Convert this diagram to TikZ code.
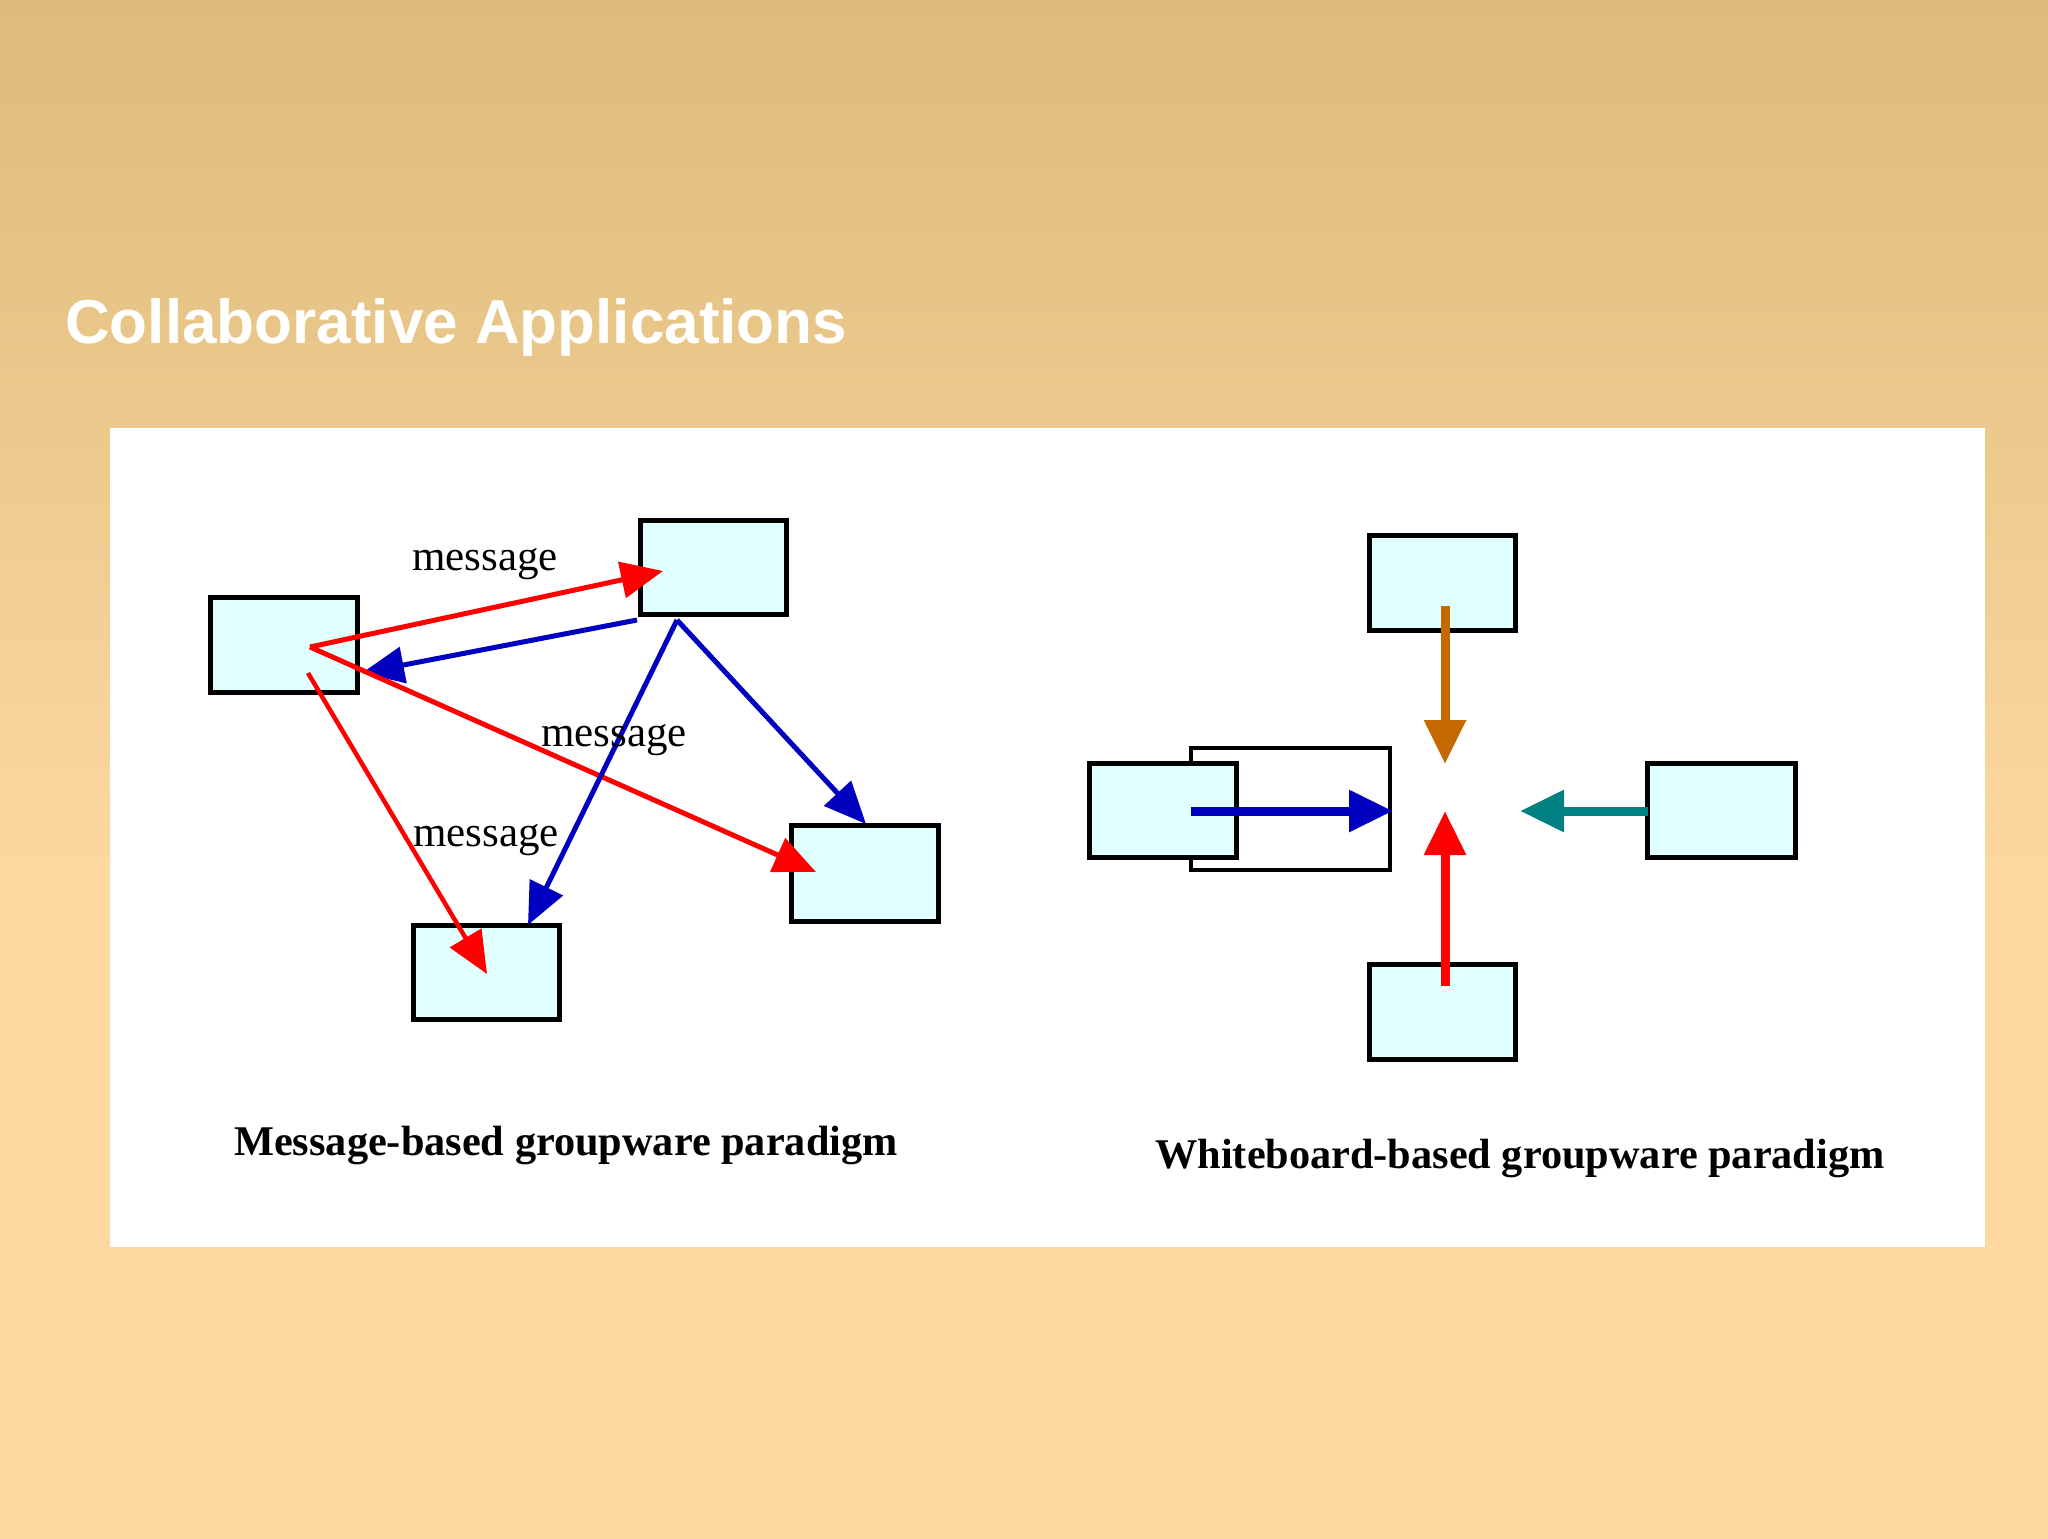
\documentclass[tikz,border=0pt]{standalone}
\usepackage{fontspec}
\setmainfont{Liberation Serif}
\newfontfamily\titlefont{Liberation Sans}
\usetikzlibrary{arrows.meta}
\definecolor{bgtop}{RGB}{220,187,123}
\definecolor{bgbot}{RGB}{253,217,160}
\definecolor{boxfill}{RGB}{224,255,255}
\definecolor{myred}{RGB}{255,0,0}
\definecolor{myblue}{RGB}{0,0,192}
\definecolor{myorange}{RGB}{196,104,0}
\definecolor{myteal}{RGB}{0,128,128}
\tikzset{
  box/.style={draw=black, line width=5pt, fill=boxfill},
  msgarrow/.style={line width=5pt, -{Triangle[length=42pt,width=36pt]}},
  wbarrow/.style={line width=9pt, -{Triangle[length=44pt,width=40pt]}},
  msglabel/.style={font=\fontsize{43}{46}\selectfont, anchor=base, inner sep=0pt},
  caption/.style={font=\bfseries\fontsize{42.3}{46}\selectfont, anchor=base, inner sep=0pt},
}
\begin{document}
\begin{tikzpicture}[x=1pt, y=-1pt]
\useasboundingbox (0,0) rectangle (2048,1539);
% background
\shade[top color=bgtop, bottom color=bgbot] (0,0) rectangle (2048,900);
\fill[bgbot] (0,899) rectangle (2048,1539);
% title
\node[anchor=base west, inner sep=0pt, text=white, font=\titlefont\bfseries\fontsize{62}{70}\selectfont] (title) at (65,343) {Collaborative Applications};
% panel
\fill[white] (110,428) rectangle (1985,1247);

% ---------- Message-based ----------
\draw[box] (210,597) rectangle (357,692);
\node[inner sep=0pt, minimum width=147pt, minimum height=95pt] (A) at (283.5,644.5) {};
\draw[box] (640,520) rectangle (786,614);
\node[inner sep=0pt, minimum width=146pt, minimum height=94pt] (B) at (713,567) {};
\draw[box] (791,825) rectangle (938,921);
\node[inner sep=0pt, minimum width=147pt, minimum height=96pt] (C) at (864.5,873) {};
\draw[box] (413,925) rectangle (559,1019);
\node[inner sep=0pt, minimum width=146pt, minimum height=94pt] (D) at (486,972) {};

\coordinate (a1) at (310,647);
\coordinate (a2) at (308,673);
\coordinate (b1) at (637,620);
\coordinate (b2) at (677,620);
\coordinate (tB) at (663,571);
\coordinate (tAb) at (362,673);
\coordinate (tC) at (816,872);
\coordinate (tD) at (487,974);
\coordinate (tCb) at (866,824);
\coordinate (tDb) at (528,925);

\draw[msgarrow, myred] (a1) -- (tB);
\draw[msgarrow, myblue] (b1) -- (tAb);
\draw[msgarrow, myred] (a1) -- (tC);
\draw[msgarrow, myred, line width=4.5pt] (a2) -- (tD);
\draw[msgarrow, myblue] (b2) -- (tCb);
\draw[msgarrow, myblue] (b2) -- (tDb);

\node[msglabel] (m1) at (485,570) {message};
\node[msglabel] (m2) at (614,746) {message};
\node[msglabel] (m3) at (486,846) {message};

\node[caption] (cap1) at (566,1155) {Message-based groupware paradigm};

% ---------- Whiteboard-based ----------
\draw[draw=black, line width=3.5pt, fill=white] (1191,748) rectangle (1390,870);
\node[inner sep=0pt, minimum width=199pt, minimum height=122pt] (W) at (1290.5,809) {};
\draw[box] (1369,535) rectangle (1515,630);
\node[inner sep=0pt, minimum width=146pt, minimum height=95pt] (T) at (1442,582.5) {};
\draw[box] (1089,763) rectangle (1236,857);
\node[inner sep=0pt, minimum width=147pt, minimum height=94pt] (L) at (1162.5,810) {};
\draw[box] (1647,763) rectangle (1795,857);
\node[inner sep=0pt, minimum width=148pt, minimum height=94pt] (R) at (1721,810) {};
\draw[box] (1369,964) rectangle (1515,1059);
\node[inner sep=0pt, minimum width=146pt, minimum height=95pt] (Bt) at (1442,1011.5) {};

\coordinate (ts) at (1445,606);
\coordinate (te) at (1445,764);
\coordinate (ls) at (1191,811);
\coordinate (le) at (1393,811);
\coordinate (rs) at (1648,811);
\coordinate (re) at (1520,811);
\coordinate (bs) at (1445,986);
\coordinate (be) at (1445,811);

\draw[wbarrow, myorange] (ts) -- (te);
\draw[wbarrow, myblue] (ls) -- (le);
\draw[wbarrow, myteal] (rs) -- (re);
\draw[wbarrow, myred] (bs) -- (be);

\node[caption] (cap2) at (1520,1168) {Whiteboard-based groupware paradigm};
\end{tikzpicture}
\end{document}
